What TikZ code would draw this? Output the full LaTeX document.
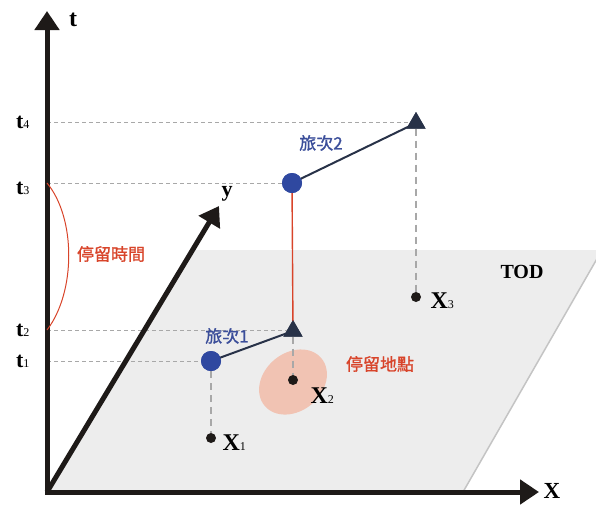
\documentclass[tikz,border=0pt]{standalone}
\usepackage{fontspec}
\setmainfont{Liberation Serif}
\newfontfamily\cjk[FakeBold=1.2]{Noto Sans CJK TC}
\usetikzlibrary{arrows.meta,shapes.geometric}
\definecolor{planegray}{HTML}{EDEDED}
\definecolor{edgegray}{HTML}{C4C4C4}
\definecolor{dashgray}{HTML}{A8A8A8}
\definecolor{tripblue}{HTML}{2F48A0}
\definecolor{textblue}{HTML}{3B4E9A}
\definecolor{navy}{HTML}{283248}
\definecolor{stopred}{HTML}{D8442A}
\definecolor{pink}{HTML}{F1C3B3}
\definecolor{axisblack}{HTML}{1E1A18}
\newcommand{\subdig}[1]{{\fontsize{12}{12}\selectfont\mdseries #1}}
\tikzset{
  axis/.style={line width=5pt, draw=axisblack, -{Triangle[length=19pt,width=24pt]}},
  guide/.style={draw=dashgray, line width=0.8pt, dash pattern=on 4pt off 3pt},
  drop/.style={draw=dashgray, line width=1.6pt, dash pattern=on 7pt off 5pt},
  tlab/.style={font=\fontsize{22}{22}\selectfont\bfseries, anchor=east},
  xlab/.style={font=\fontsize{24}{24}\selectfont\bfseries, anchor=west},
  cjklab/.style={font=\cjk\fontsize{17}{17}\selectfont},
  stopc/.style={circle, fill=tripblue, inner sep=0pt, minimum size=20pt},
  stopt/.style={regular polygon, regular polygon sides=3, fill=navy, inner sep=0pt, minimum size=22pt},
  place/.style={circle, fill=axisblack, inner sep=0pt, minimum size=10pt},
  trip/.style={draw=navy, line width=2pt}
}
\begin{document}
\begin{tikzpicture}[x=1pt,y=-1pt]
\useasboundingbox (0,0) rectangle (596,504);
\begin{scope}
\clip (0,0) rectangle (596,504);
% plane
\fill[planegray] (47,492) -- (193,250) -- (602,250) -- (463,492) -- cycle;
\draw[edgegray, line width=1.5pt] (463,492) -- (602,250);
\end{scope}
% coordinates
\coordinate (O) at (47,492);
\coordinate (T4) at (47,122);
\coordinate (T3) at (47,183);
\coordinate (T2) at (47,330);
\coordinate (T1) at (47,361);
% ellipse
\fill[pink, rotate around={40:(293,382)}] (293,382) ellipse [x radius=37pt, y radius=29pt];
% nodes
\node[stopc] (c2) at (292,183) {};
\node[stopt] (tr2) at (416,123) {};
\node[stopt] (tr1) at (293,331) {};
\node[stopc] (c1) at (211,361) {};
\node[place] (x1) at (211,438) {};
\node[place] (x2) at (293,380) {};
\node[place] (x3) at (416,297) {};
\draw[guide] (T4) -- (T4 -| tr2.center);
\draw[guide] (T3) -- (c2);
\draw[guide] (T2) -- (T2 -| tr1.center);
\draw[guide] (T1) -- (c1);
\draw[drop] (c1) -- (x1);
\draw[drop] (tr1.south) -- (x2);
\draw[drop] (tr2.south) -- (x3);
\draw[stopred, line width=1.4pt] (c2) -- (tr1.center);
\draw[trip] (c2.center) -- (tr2.center);
\draw[trip] (c1.center) -- (tr1.center);
\node[stopc] at (292,183) {};
\node[stopc] at (211,361) {};
\node[stopt] at (416,123) {};
\node[stopt] at (293,331) {};
% axes
\draw[axis] (O) -- (219,206);
\draw[axis] (47,494) -- (47,11);
\draw[axis] (45,492) -- (539,492);
% red arc
\draw[stopred, line width=1pt] (T3) .. controls (76,218) and (76,292) .. (T2);
% labels
\node[font=\fontsize{24}{24}\selectfont\bfseries] (tl) at (73,20) {t};
\node[font=\fontsize{23}{23}\selectfont\bfseries, inner sep=0pt] (xl) at (552,491) {X};
\node[font=\fontsize{22}{22}\selectfont\bfseries] (yl) at (227,194) {y};
\node[tlab] (l4) at (33,122) {t\subdig{4}};
\node[tlab] (l3) at (33,188) {t\subdig{3}};
\node[tlab] (l2) at (33,330) {t\subdig{2}};
\node[tlab] (l1) at (33,361) {t\subdig{1}};
\node[xlab] (lx1) at (219,443) {X\subdig{1}};
\node[xlab] (lx2) at (307,396) {X\subdig{2}};
\node[xlab] (lx3) at (427,301) {X\subdig{3}};
\node[font=\fontsize{20}{20}\selectfont\bfseries] (tod) at (522,272) {TOD};
\node[cjklab, text=stopred] (stime) at (111,254) {停留時間};
\node[cjklab, text=stopred] (splace) at (380,364) {停留地點};
\node[cjklab, text=textblue] (trip2) at (321,143) {旅次2};
\node[cjklab, text=textblue] (trip1) at (227,336) {旅次1};
\end{tikzpicture}
\end{document}
